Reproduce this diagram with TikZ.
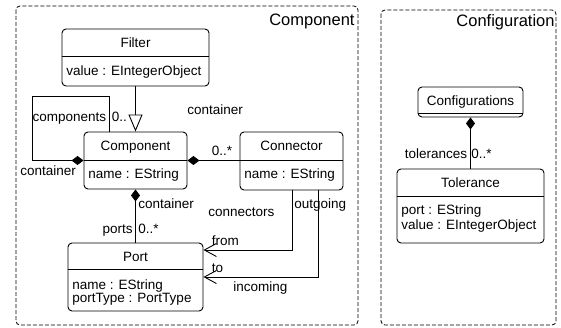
\documentclass[tikz,border=0pt]{standalone}
\usepackage{fontspec}
\setmainfont{Liberation Sans}
\usetikzlibrary{arrows.meta}
\begin{document}
\begin{tikzpicture}[x=1pt,y=-1pt,
  font=\fontsize{13.5}{14}\selectfont,
  line width=0.9pt,
  classbox/.style={draw, rounded corners=4pt, fill=white, inner sep=0pt},
  pkgframe/.style={draw, dash pattern=on 4pt off 2pt, rounded corners=4pt, line width=0.8pt},
  pkgtitle/.style={font=\fontsize{16.5}{17}\selectfont, anchor=base east, inner sep=0pt},
  lbl/.style={inner sep=0pt},
  txt/.style={inner sep=0pt, anchor=base},
  attr/.style={inner sep=0pt, anchor=base west},
  compos/.style={{Diamond[length=12pt,width=9pt]}-},
  navi/.style={-{Straight Barb[length=12pt,width=13pt]}},
  gener/.style={-{Triangle[length=17pt,width=14pt,fill=white]}}]
\useasboundingbox (0,0) rectangle (561,328);

% package frames
\draw[pkgframe] (16,6) rectangle (358,325);
\node[pkgtitle] (pkgcomp) at (355,26) {Component};
\draw[pkgframe] (381,10) rectangle (556,325);
\node[pkgtitle] (pkgconf) at (555,27) {Configuration};

% classes of the Component package
\node[classbox, minimum width=147pt, minimum height=57pt] (filter) at (135.5,57.5) {};
\draw (filter.west |- 0,56) -- (filter.east |- 0,56);
\node[txt] (filtertitle) at (135.5,47.5) {Filter};
\node[attr] (filterval) at (66,75.5) {value : EIntegerObject};

\node[classbox, minimum width=103pt, minimum height=57pt] (component) at (135.5,160.5) {};
\draw (component.west |- 0,160) -- (component.east |- 0,160);
\node[txt] (comptitle) at (135.5,151) {Component};
\node[attr] (compname) at (88,179) {name : EString};

\node[classbox, minimum width=103pt, minimum height=58pt] (connector) at (291.5,161) {};
\draw (connector.west |- 0,160) -- (connector.east |- 0,160);
\node[txt] (conntitle) at (291.5,151) {Connector};
\node[attr] (connname) at (244,179) {name : EString};

\node[classbox, minimum width=135pt, minimum height=68pt] (port) at (135.5,277) {};
\draw (port.west |- 0,269) -- (port.east |- 0,269);
\node[txt] (porttitle) at (135.5,261.5) {Port};
\node[attr] (portname) at (72,289.5) {name : EString};
\node[attr] (porttype) at (72,302.5) {portType : PortType};

% classes of the Configuration package
\node[classbox, minimum width=105pt, minimum height=30pt] (configs) at (470.5,102) {};
\draw (configs.west |- 0,113.3) -- (configs.east |- 0,113.3);
\node[txt] (configstitle) at (470.5,105.5) {Configurations};

\node[classbox, minimum width=147pt, minimum height=74pt] (tolerance) at (470.5,206) {};
\draw (tolerance.west |- 0,196) -- (tolerance.east |- 0,196);
\node[txt] (toltitle) at (470.5,187.5) {Tolerance};
\node[attr] (tolport) at (401,214.5) {port : EString};
\node[attr] (tolval) at (401,229.5) {value : EIntegerObject};

% self containment of Component
\coordinate (loopa) at (32,160.5);
\coordinate (loopb) at (32,96);
\coordinate (loopc) at (109,96);
\coordinate (loopin) at (109,132);
\draw[compos] (component.west) -- (loopa) -- (loopb) -- (loopc) -- (loopin);
\node[lbl, anchor=base east] (lcomponents) at (106.5,122) {components};
\node[lbl, anchor=base west] (lcompmult) at (111.5,122) {0..};
\node[lbl, anchor=base west] (lcompcont) at (20,176) {container};

% generalization Component -> Filter
\draw[gener] (filter.south) -- (component.north);

% Component contains Connector
\draw[compos] (component.east) -- (connector.west |- component.east);
\node[lbl, anchor=base west] (lconncont) at (187,115) {container};
\node[lbl, anchor=base east] (lconnmult) at (232.5,156) {0..*};
\node[lbl, anchor=base west] (lconnectors) at (208,217) {connectors};

% Component contains Port
\draw[compos] (component.south) -- (port.north);
\node[lbl, anchor=base west] (lportcont) at (138,209) {container};
\node[lbl, anchor=base east] (lports) at (133,233.5) {ports};
\node[lbl, anchor=base west] (lportmult) at (138,233.5) {0..*};

% Connector references to Port
\coordinate (fromtop) at (292,190);
\coordinate (frombend) at (292,250);
\draw[navi] (fromtop) -- (frombend) -- (port.east |- frombend);
\node[lbl, anchor=base west] (loutgoing) at (294,209) {outgoing};
\node[lbl, anchor=base west] (lfrom) at (211.5,246) {from};

\coordinate (totop) at (318,190);
\coordinate (tobend) at (318,277);
\draw[navi] (totop) -- (tobend) -- (port.east |- tobend);
\node[lbl, anchor=base west] (lto) at (211.5,272) {to};
\node[lbl, anchor=base west] (lincoming) at (233,291) {incoming};

% Configurations contains Tolerance
\draw[compos] (configs.south) -- (tolerance.north);
\node[lbl, anchor=base east] (ltolerances) at (467.5,159) {tolerances};
\node[lbl, anchor=base west] (ltolmult) at (471,159) {0..*};
\end{tikzpicture}
\end{document}
